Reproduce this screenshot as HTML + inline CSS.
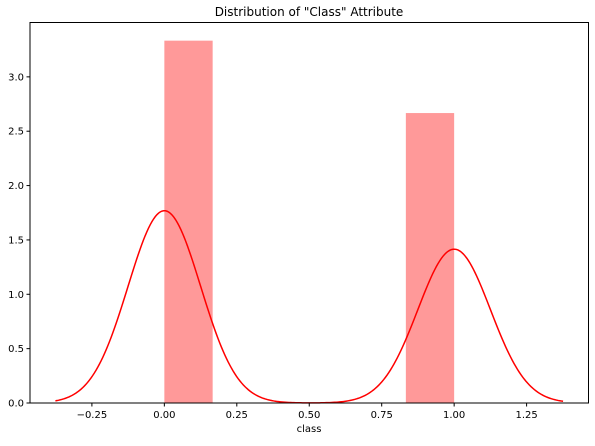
<!DOCTYPE html>
<html><head><meta charset="utf-8">
<style>
body{margin:0;background:#fff;}
svg text{font-family:"DejaVu Sans","Liberation Sans",sans-serif;font-size:10px;fill:#000;}
</style></head>
<body>
<svg id="chart" width="595" height="441">
<rect width="595" height="441" fill="#fff"/>
<text x="309" y="16" text-anchor="middle" style="font-size:12px">Distribution of "Class" Attribute</text>
<g id="bars"></g>
<path id="kde" fill="none" stroke="#ff0000" stroke-width="1.5"/>
<g id="axes"></g>
<text x="309" y="432" text-anchor="middle">class</text>
</svg>
<script>
const classValues = [0, 1];
const classCounts = [5, 4];
const histDensity = [3.333, 0, 0, 0, 0, 2.667];
const binEdges = [0, 1/6, 2/6, 3/6, 4/6, 5/6, 1];
const xTicks = [-0.25, 0, 0.25, 0.5, 0.75, 1.0, 1.25];
const xTickLabels = ["\u22120.25", "0.00", "0.25", "0.50", "0.75", "1.00", "1.25"];
const yTicks = [0, 0.5, 1, 1.5, 2, 2.5, 3];
const yTickLabels = ["0.0", "0.5", "1.0", "1.5", "2.0", "2.5", "3.0"];
const bandwidth = 0.1253;

const NS = "http://www.w3.org/2000/svg";
const L = 30, R = 588.5, T = 22.5, B = 403;
const xmin = -0.4636, xmax = 1.4636, ymax = 3.5;
const sx = v => L + (v - xmin) / (xmax - xmin) * (R - L);
const sy = v => B - v / ymax * (B - T);

const bars = document.getElementById('bars');
histDensity.forEach((d, i) => {
  if (d <= 0) return;
  const r = document.createElementNS(NS, 'rect');
  r.setAttribute('x', sx(binEdges[i]));
  r.setAttribute('width', sx(binEdges[i+1]) - sx(binEdges[i]));
  r.setAttribute('y', sy(d));
  r.setAttribute('height', B - sy(d));
  r.setAttribute('fill', '#ff9999');
  
  
  bars.appendChild(r);
});

const total = classCounts.reduce((a, b) => a + b, 0);
const lo = Math.min(...classValues) - 3 * bandwidth, hi = Math.max(...classValues) + 3 * bandwidth;
let dstr = '';
for (let k = 0; k <= 300; k++) {
  const x = lo + (hi - lo) * k / 300;
  let y = 0;
  classValues.forEach((c, j) => {
    y += classCounts[j] / total * Math.exp(-0.5 * ((x - c) / bandwidth) ** 2) / (Math.sqrt(2 * Math.PI) * bandwidth);
  });
  dstr += (k ? 'L' : 'M') + sx(x).toFixed(2) + ',' + sy(y).toFixed(2);
}
document.getElementById('kde').setAttribute('d', dstr);

const axes = document.getElementById('axes');
function add(tag, attrs, text) {
  const e = document.createElementNS(NS, tag);
  for (const k in attrs) e.setAttribute(k, attrs[k]);
  if (text !== undefined) e.textContent = text;
  axes.appendChild(e);
  return e;
}
const frame = add('rect', {x: L, y: T, width: R - L, height: B - T, fill: 'none', stroke: '#000', 'stroke-width': 1});


xTicks.forEach((v, i) => {
  const t = add('line', {x1: sx(v), x2: sx(v), y1: B, y2: B + 3.5, stroke: '#000'});
  
  
  const lb = add('text', {x: sx(v), y: B + 15, 'text-anchor': 'middle'}, xTickLabels[i]);
  
  
});
yTicks.forEach((v, i) => {
  const t = add('line', {x1: L - 3.5, x2: L, y1: sy(v), y2: sy(v), stroke: '#000'});
  
  
  const lb = add('text', {x: L - 6, y: sy(v) + 3.5, 'text-anchor': 'end'}, yTickLabels[i]);
  
  
});
</script>
</body></html>
